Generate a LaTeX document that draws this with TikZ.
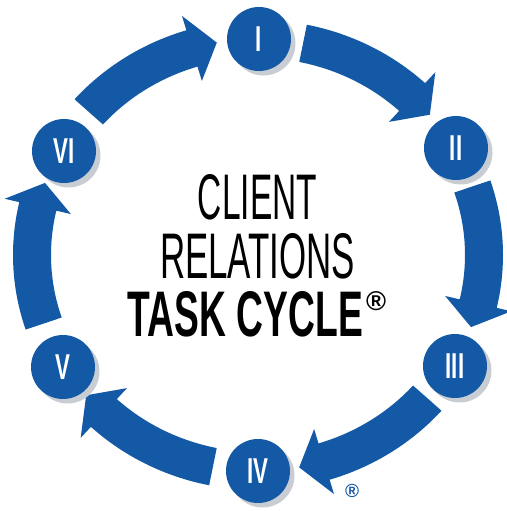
\documentclass[tikz,border=0pt]{standalone}
\usepackage{fontspec}
\setmainfont{Liberation Sans}
\definecolor{cycleblue}{RGB}{19,89,166}
\definecolor{shadowgrey}{RGB}{200,204,211}
\begin{document}
\begin{tikzpicture}[x=1pt,y=-1pt,
  stage/.style={circle, fill=cycleblue, minimum size=64pt, inner sep=0pt,
    text=white, font=\fontsize{36}{36}\selectfont\bfseries},
  stageshadow/.style={circle, fill=shadowgrey, minimum size=64pt, inner sep=0pt},
  title/.style={inner sep=0pt, text=black},
]
\useasboundingbox (0,0) rectangle (506,511);

% Curved arrows laid along the ellipse centred at (258,255), radii 226 x 216.
% Band half-width 19, arrowhead half-width 34.
\foreach \k [evaluate=\k as \ta using 78.5-60*\k,
             evaluate=\k as \tb using 47-60*\k,
             evaluate=\k as \tc using 40.5-60*\k] in {0,...,5} {
  \fill[cycleblue]
    plot[domain=\ta:\tb, samples=40] ({258+245*cos(\x)},{255-235*sin(\x)})
    -- ({258+260*cos(\tb)},{255-250*sin(\tb)})
    -- ({258+226*cos(\tc)},{255-216*sin(\tc)})
    -- ({258+192*cos(\tb)},{255-182*sin(\tb)})
    -- plot[domain=\tb:\ta, samples=40] ({258+207*cos(\x)},{255-197*sin(\x)})
    -- cycle;
}

% Stage circles with their drop shadows
\foreach \name/\px/\py/\lab in {s1/259/39/I, s2/456/148/II, s3/455/366/III,
                                s4/258/471/IV, s5/63/367/V, s6/64/151/VI} {
  \node[stageshadow] (\name-shadow) at (\px+4.5,\py+4.5) {};
  \node[stage] (\name) at (\px,\py) {\scalebox{0.62}[1]{\lab}};
}

% Central title
\node[title] (client) at (257.5,197.5)
  {\resizebox{119pt}{45pt}{CLIENT}};
\node[title] (relations) at (257.5,256.5)
  {\resizebox{195pt}{45pt}{RELATIONS}};
\node[title] (task) at (245.5,314.5)
  {\resizebox{235pt}{45pt}{\bfseries TASK CYCLE}};
\node[title] (reg) at (376,301.5)
  {\resizebox{20pt}{!}{\bfseries ®}};

% Small registered mark below the cycle
\node[title, text=cycleblue] (regsmall) at (352,491)
  {\resizebox{14pt}{!}{\bfseries ®}};
\end{tikzpicture}
\end{document}
